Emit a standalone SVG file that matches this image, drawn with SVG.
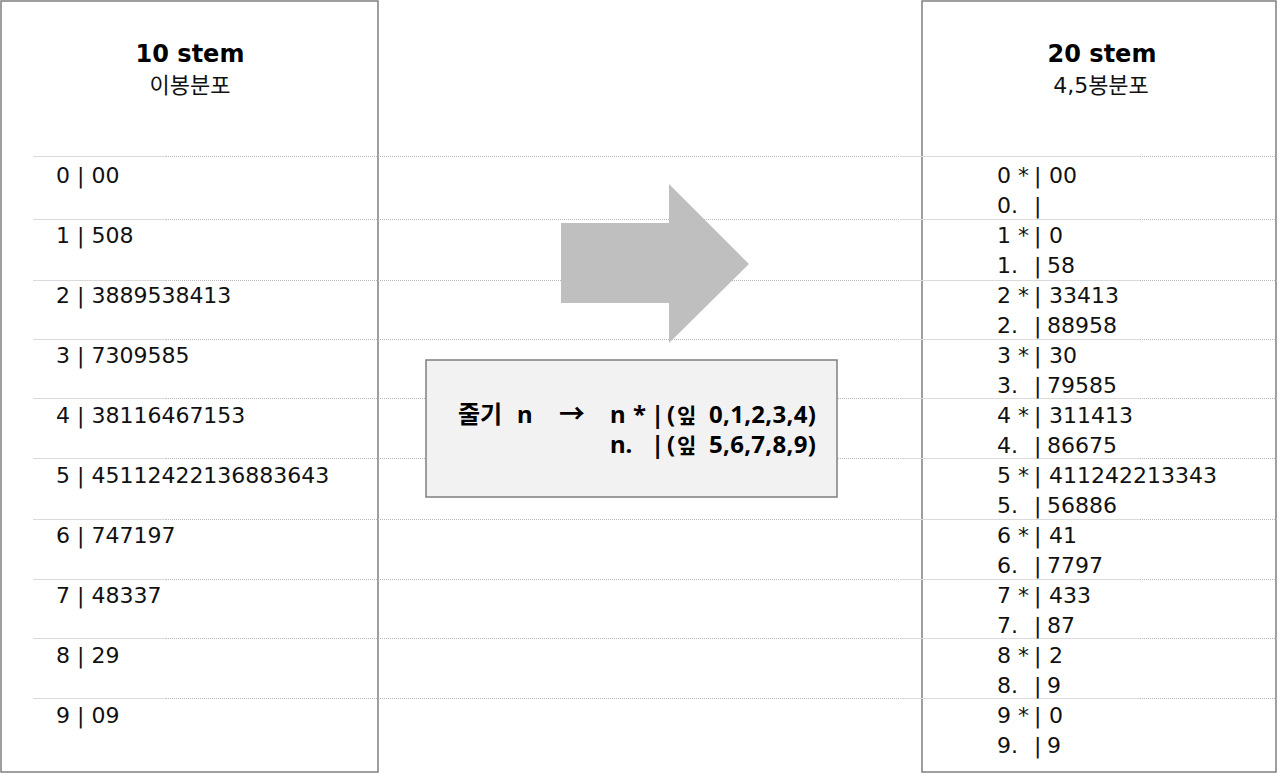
<svg xmlns="http://www.w3.org/2000/svg" width="1283" height="774" viewBox="0 0 1283 774">
<style>
.panel{fill:#ffffff;stroke:#7f7f7f;stroke-width:1.5}
.title{font-family:"DejaVu Sans","Noto Sans CJK KR",sans-serif;font-weight:bold;font-size:24px;fill:#000;text-anchor:middle}
.sub{font-family:"DejaVu Sans","Noto Sans CJK KR",sans-serif;font-size:22px;fill:#111;text-anchor:middle}
.row{font-family:"DejaVu Sans","Noto Sans CJK KR",sans-serif;font-size:22px;fill:#111}
.box{fill:#f2f2f2;stroke:#7f7f7f;stroke-width:1.5}
.boxt{font-family:"Noto Sans","Noto Sans CJK KR",sans-serif;font-weight:bold;font-size:24px;fill:#000}
.ls{stroke:#dadada;stroke-width:1;fill:none}
.ld{stroke:#b8b8b8;stroke-width:1;stroke-dasharray:1 1;fill:none}
</style>
<rect width="1283" height="774" fill="#ffffff"/>
<g id="panel-left">
<rect class="panel" x="1" y="1" width="377" height="771"/>
<text class="title" x="190" y="62">10 stem</text>
<text class="sub" x="190" y="93">이봉분포</text>
</g>
<g id="panel-right">
<rect class="panel" x="922" y="1" width="354" height="771"/>
<text class="title" x="1102" y="62">20 stem</text>
<text class="sub" x="1101" y="93">4,5봉분포</text>
</g>
<g id="rules">
<path class="ld" d="M166 156.5H1278M166 219.5H1278M166 280.5H1278M166 339.5H1278M166 398.5H1278M166 458.5H1278M166 519.5H1278M166 579.5H1278M166 638.5H1278M166 698.5H1278"/>
<path class="ls" d="M33 156.5H166M33 219.5H166M33 280.5H166M33 339.5H166M33 398.5H166M33 458.5H166M33 519.5H166M33 579.5H166M33 638.5H166M33 698.5H166"/>
<path class="ls" d="M900 156.5H1140M900 219.5H1140M900 280.5H1140M900 339.5H1140M900 398.5H1140M900 458.5H1140M900 519.5H1140M900 579.5H1140M900 638.5H1140M900 698.5H1140"/>
</g>
<g id="left-rows" class="row">
<text x="56" y="183">0 | 00</text>
<text x="56" y="243">1 | 508</text>
<text x="56" y="303">2 | 3889538413</text>
<text x="56" y="363">3 | 7309585</text>
<text x="56" y="423">4 | 38116467153</text>
<text x="56" y="483">5 | 45112422136883643</text>
<text x="56" y="543">6 | 747197</text>
<text x="56" y="603">7 | 48337</text>
<text x="56" y="663">8 | 29</text>
<text x="56" y="723">9 | 09</text>
</g>
<g id="right-rows" class="row">
<text y="183"><tspan x="997">0 *</tspan><tspan x="1034">|</tspan><tspan x="1049">00</tspan></text>
<text y="213"><tspan x="997">0.</tspan><tspan x="1034">|</tspan></text>
<text y="243"><tspan x="997">1 *</tspan><tspan x="1034">|</tspan><tspan x="1049">0</tspan></text>
<text y="273"><tspan x="997">1.</tspan><tspan x="1034">|</tspan><tspan x="1047">58</tspan></text>
<text y="303"><tspan x="997">2 *</tspan><tspan x="1034">|</tspan><tspan x="1049">33413</tspan></text>
<text y="333"><tspan x="997">2.</tspan><tspan x="1034">|</tspan><tspan x="1047">88958</tspan></text>
<text y="363"><tspan x="997">3 *</tspan><tspan x="1034">|</tspan><tspan x="1049">30</tspan></text>
<text y="393"><tspan x="997">3.</tspan><tspan x="1034">|</tspan><tspan x="1047">79585</tspan></text>
<text y="423"><tspan x="997">4 *</tspan><tspan x="1034">|</tspan><tspan x="1049">311413</tspan></text>
<text y="453"><tspan x="997">4.</tspan><tspan x="1034">|</tspan><tspan x="1047">86675</tspan></text>
<text y="483"><tspan x="997">5 *</tspan><tspan x="1034">|</tspan><tspan x="1049">411242213343</tspan></text>
<text y="513"><tspan x="997">5.</tspan><tspan x="1034">|</tspan><tspan x="1047">56886</tspan></text>
<text y="543"><tspan x="997">6 *</tspan><tspan x="1034">|</tspan><tspan x="1049">41</tspan></text>
<text y="573"><tspan x="997">6.</tspan><tspan x="1034">|</tspan><tspan x="1047">7797</tspan></text>
<text y="603"><tspan x="997">7 *</tspan><tspan x="1034">|</tspan><tspan x="1049">433</tspan></text>
<text y="633"><tspan x="997">7.</tspan><tspan x="1034">|</tspan><tspan x="1047">87</tspan></text>
<text y="663"><tspan x="997">8 *</tspan><tspan x="1034">|</tspan><tspan x="1049">2</tspan></text>
<text y="693"><tspan x="997">8.</tspan><tspan x="1034">|</tspan><tspan x="1047">9</tspan></text>
<text y="723"><tspan x="997">9 *</tspan><tspan x="1034">|</tspan><tspan x="1049">0</tspan></text>
<text y="753"><tspan x="997">9.</tspan><tspan x="1034">|</tspan><tspan x="1047">9</tspan></text>
</g>
<g id="big-arrow">
<polygon points="561,223 669,223 669,184 749,264 669,343 669,303 561,303" fill="#bfbfbf"/>
</g>
<g id="rule-box">
<rect class="box" x="426" y="360" width="411" height="137"/>
<text class="boxt" y="423"><tspan x="458">줄기</tspan><tspan x="517">n</tspan><tspan x="559" font-size="26">→</tspan><tspan x="610">n</tspan><tspan x="633">*</tspan><tspan x="651">|</tspan><tspan x="667">(</tspan><tspan x="677" font-size="21">잎</tspan><tspan x="709" letter-spacing="0.3">0,1,2,3,4)</tspan></text>
<text class="boxt" y="453"><tspan x="610">n.</tspan><tspan x="651">|</tspan><tspan x="667">(</tspan><tspan x="677" font-size="21">잎</tspan><tspan x="709" letter-spacing="0.3">5,6,7,8,9)</tspan></text>
</g>
</svg>
